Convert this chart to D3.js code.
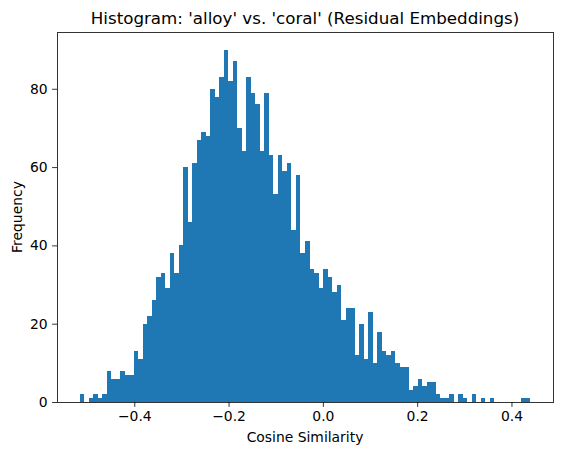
<!DOCTYPE html>
<html>
  <head>
    <meta charset="utf-8">
    <title></title>
    <style>
      body { margin: 0; background: #fff; }
      svg text { font-family: "DejaVu Sans", sans-serif; fill: #000; }
      .bar { fill: #1f77b4; }
    </style>
    <script src="https://cdnjs.cloudflare.com/ajax/libs/d3/7.8.5/d3.min.js"></script>
  </head>
  <body>
    <svg id="chart" width="562" height="455"></svg>
    <script>
// histogram: data range and counts per bin (100 bins)
var xMin = -0.5161;
var xMax = 0.4403;
var counts = [
  2, 0, 1, 2, 1, 2, 8, 6, 6, 8,
  7, 7, 13, 11, 20, 22, 26, 32, 33, 29,
  38, 33, 40, 60, 46, 61, 67, 69, 68, 80,
  78, 83, 90, 82, 87, 70, 64, 83, 79, 76,
  64, 79, 63, 53, 63, 59, 61, 44, 58, 38,
  41, 34, 33, 29, 34, 32, 28, 30, 21, 24,
  24, 12, 20, 11, 23, 10, 18, 13, 12, 13,
  10, 9, 9, 3, 4, 6, 4, 5, 5, 2,
  1, 1, 2, 0, 2, 1, 0, 2, 0, 1,
  0, 1, 0, 0, 0, 0, 0, 0, 1, 1
];
var xTicks = [-0.4, -0.2, 0.0, 0.2, 0.4];
var yTicks = [0, 20, 40, 60, 80];

var title = "Histogram: 'alloy' vs. 'coral' (Residual Embeddings)";
var xLabel = "Cosine Similarity";
var yLabel = "Frequency";

// note: "top" is reserved on window, so use mLeft / mTop
var mLeft = 57, mTop = 32, width = 496, height = 370;
var svg = d3.select("#chart");
var g = svg.append("g").attr("transform", "translate(" + mLeft + "," + mTop + ")");

var binW = (xMax - xMin) / counts.length;
var bins = counts.map(function(c, i){ return { x0: xMin + i * binW, x1: xMin + (i + 1) * binW, n: c }; });

// matplotlib style 5% margins
var pad = (xMax - xMin) * 0.05;
var x = d3.scaleLinear().domain([xMin - pad, xMax + pad]).range([0, width]);
var y = d3.scaleLinear().domain([0, d3.max(counts) * 1.05]).range([height, 0]);

g.selectAll(".bar").data(bins.filter(function(b){ return b.n > 0; })).enter()
  .append("rect").attr("class", "bar")
  .attr("x", function(b){ return x(b.x0); })
  .attr("width", function(b){ return x(b.x1) - x(b.x0); })
  .attr("y", function(b){ return y(b.n); })
  .attr("height", function(b){ return height - y(b.n); })
  .attr("shape-rendering", "crispEdges");

var fmt = function(d){ return d3.format(".1f")(d).replace("-", "\u2212"); };

var xAxis = g.append("g").attr("transform", "translate(0," + height + ")")
  .call(d3.axisBottom(x).tickValues(xTicks).tickFormat(fmt).tickSize(4.9).tickPadding(4.5));
var yAxis = g.append("g")
  .call(d3.axisLeft(y).tickValues(yTicks).tickSize(4.9).tickPadding(4.5));

[xAxis, yAxis].forEach(function(a){
  a.select(".domain").remove();
  a.selectAll("line").attr("stroke", "#000").attr("stroke-width", 0.8);
  a.selectAll("text").attr("font-size", "13.9px").attr("font-family", "DejaVu Sans, sans-serif");
});

// frame
g.append("rect").attr("width", width).attr("height", height)
  .attr("fill", "none").attr("stroke", "#000").attr("stroke-width", 0.8)
  .attr("shape-rendering", "crispEdges");

svg.append("text").attr("x", mLeft + width / 2).attr("y", 24)
  .attr("text-anchor", "middle").attr("font-size", "16.7px").text(title);

svg.append("text").attr("x", mLeft + width / 2).attr("y", 441.5)
  .attr("text-anchor", "middle").attr("font-size", "13.9px").text(xLabel);

svg.append("text").attr("transform", "translate(22," + (mTop + height / 2) + ") rotate(-90)")
  .attr("text-anchor", "middle").attr("font-size", "13.9px").text(yLabel);
    </script>
  </body>
</html>
